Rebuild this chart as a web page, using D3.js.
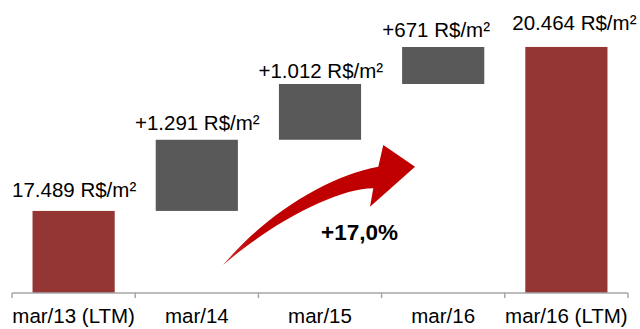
<!DOCTYPE html>
<html>
<head>
<meta charset="utf-8">
<script src="https://cdn.jsdelivr.net/npm/d3@7/dist/d3.min.js"></script>
<style>
  html, body { margin: 0; padding: 0; background: #fff; }
  svg { display: block; font-family: "Liberation Sans", Arial, sans-serif; }
</style>
</head>
<body>
<svg id="chart" width="640" height="329"></svg>
<script>
// Waterfall: average sale price per m² (R$/m²)
const categories = ["mar/13 (LTM)", "mar/14", "mar/15", "mar/16", "mar/16 (LTM)"];
const kinds = ["total", "delta", "delta", "delta", "total"];
const values = [17489, 1291, 1012, 671, 20464];
const growthLabel = "+17,0%";

const ptBR = d3.formatLocale({ decimal: ",", thousands: ".", grouping: [3], currency: ["R$", ""] });
const fmt = ptBR.format(",d");

// running positions of each step
let run = 0;
const steps = categories.map((c, i) => {
  let y0, y1;
  if (kinds[i] === "total") { y0 = 16000; y1 = values[i]; run = values[i]; }
  else { y0 = run; y1 = run + values[i]; run = y1; }
  const label = (kinds[i] === "delta" ? "+" : "") + fmt(values[i]) + " R$/m²";
  return { cat: c, kind: kinds[i], y0, y1, label };
});

const svg = d3.select("#chart");

const x = d3.scaleBand()
  .domain(categories)
  .range([12, 628])
  .paddingInner(0.333)
  .paddingOuter(0.1667);

const y = d3.scaleLinear()
  .domain([16000, 21000])
  .range([293, 17.4]);

// bars
svg.append("g").selectAll("rect")
  .data(steps)
  .join("rect")
  .attr("x", d => x(d.cat))
  .attr("width", x.bandwidth())
  .attr("y", d => y(Math.max(d.y0, d.y1)))
  .attr("height", d => Math.abs(y(d.y0) - y(d.y1)))
  .attr("fill", d => d.kind === "total" ? "#943634" : "#595959");

// value labels, hand-nudged like the slide's text boxes
const nudge = [[0.5, -14], [0.5, -10], [0.8, -6], [-7, -10], [8, -17]];
svg.append("g").selectAll("text")
  .data(steps)
  .join("text")
  .attr("x", (d, i) => x(d.cat) + x.bandwidth() / 2 + nudge[i][0])
  .attr("y", (d, i) => y(Math.max(d.y0, d.y1)) + nudge[i][1])
  .attr("text-anchor", "middle")
  .attr("font-size", 20.5)
  .attr("fill", "#000")
  .text(d => d.label);

// category axis with ticks between bands
const axisY = 293;
const step = x.step();
const bounds = categories.map(c => x(c) - step * x.paddingInner() / 2)
  .concat([x(categories[categories.length - 1]) + x.bandwidth() + step * x.paddingInner() / 2]);

const axis = svg.append("g").attr("transform", `translate(0,${axisY})`);
axis.append("line")
  .attr("x1", bounds[0]).attr("x2", bounds[bounds.length - 1])
  .attr("stroke", "#a6a6a6").attr("stroke-width", 1.5);
axis.selectAll("line.tick")
  .data(bounds)
  .join("line")
  .attr("class", "tick")
  .attr("x1", d => d).attr("x2", d => d)
  .attr("y1", 0).attr("y2", 5)
  .attr("stroke", "#a6a6a6").attr("stroke-width", 1.5);

const labelAxis = d3.axisBottom(x).tickSize(0).tickPadding(0);
const gLab = svg.append("g").attr("transform", `translate(0,${axisY})`).call(labelAxis);
gLab.select(".domain").remove();
gLab.selectAll("text")
  .attr("font-size", 20.5)
  .attr("font-family", "Liberation Sans, Arial, sans-serif")
  .attr("fill", "#000")
  .attr("dy", null)
  .attr("y", 30);

// growth arrow
const defs = svg.append("defs");
defs.append("filter").attr("id", "soft")
  .append("feGaussianBlur").attr("stdDeviation", 0.6);
const grad = defs.append("linearGradient").attr("id", "arrowGrad")
  .attr("x1", "0%").attr("y1", "100%").attr("x2", "100%").attr("y2", "0%");
grad.append("stop").attr("offset", "0%").attr("stop-color", "#d03030");
grad.append("stop").attr("offset", "20%").attr("stop-color", "#c00000");
grad.append("stop").attr("offset", "100%").attr("stop-color", "#c00000");

const arrow = d3.path();
arrow.moveTo(223, 265);
arrow.bezierCurveTo(270, 210, 330, 176, 378.3, 166.7);
arrow.lineTo(383.3, 145);
arrow.lineTo(415, 166.7);
arrow.lineTo(370, 206.7);
arrow.lineTo(373.3, 188.3);
arrow.bezierCurveTo(340, 188, 275, 220, 223, 265);
arrow.closePath();

svg.append("path")
  .attr("d", arrow.toString())
  .attr("fill", "url(#arrowGrad)")
  .attr("filter", "url(#soft)");

svg.append("text")
  .attr("x", 359.5)
  .attr("y", 240)
  .attr("text-anchor", "middle")
  .attr("font-size", 22.5)
  .attr("font-weight", "bold")
  .attr("fill", "#000")
  .text(growthLabel);
</script>
</body>
</html>
